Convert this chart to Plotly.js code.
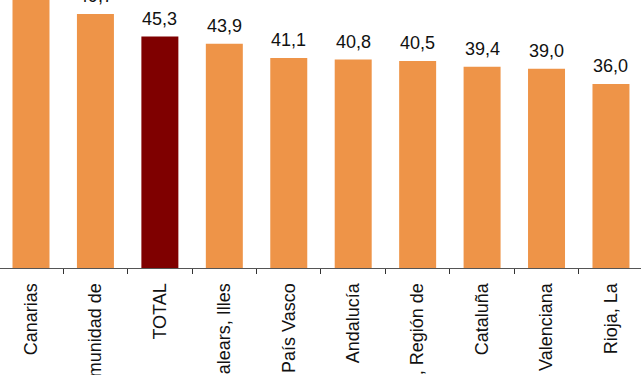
<!DOCTYPE html>
<html><head><meta charset="utf-8">
<script src="https://cdn.plot.ly/plotly-3.0.1.min.js"></script>
<style>html,body{margin:0;padding:0;background:#fff;overflow:hidden}</style>
</head><body><div id="chart" style="width:641px;height:375px"></div>
<script>
const categories = ["Canarias","Madrid, Comunidad de","TOTAL","Balears, Illes","País Vasco","Andalucía","Murcia, Región de","Cataluña","Comunitat Valenciana","Rioja, La"];
const values = [55.0, 49.7, 45.3, 43.9, 41.1, 40.8, 40.5, 39.4, 39.0, 36.0];
const colors = categories.map(c => c === "TOTAL" ? "#7F0000" : "#EE9448");
const fmt = v => v.toFixed(1).replace('.', ',');

const trace = {
  type: 'bar', x: categories, y: values,
  marker: {color: colors, line: {width: 0}},
  hoverinfo: 'none'
};
const annotations = categories.map((c, i) => ({
  x: c, y: values[i], xref: 'x', yref: 'y',
  text: fmt(values[i]), showarrow: false,
  yanchor: 'bottom', yshift: 6,
  font: {family: 'Liberation Sans, Arial', size: 18, color: '#111'}
}));
const layout = {
  width: 641, height: 375,
  margin: {l: 0, r: 0, t: 0, b: 107},
  paper_bgcolor: '#fff', plot_bgcolor: '#fff',
  bargap: 0.426,
  showlegend: false,
  xaxis: {
    type: 'category', range: [-0.481, 9.466],
    showline: true, linecolor: '#555', linewidth: 1,
    ticks: 'outside', tickson: 'boundaries', ticklen: 5, tickcolor: '#333',
    tickangle: -90, automargin: false, ticklabelstandoff: 7,
    tickfont: {family: 'Liberation Sans, Arial', size: 18, color: '#111'},
    showgrid: false, zeroline: false
  },
  yaxis: {range: [0, 52.45], visible: false, showgrid: false, zeroline: false},
  annotations: annotations
};
Plotly.newPlot('chart', [trace], layout, {staticPlot: true, displayModeBar: false});
</script></body></html>
